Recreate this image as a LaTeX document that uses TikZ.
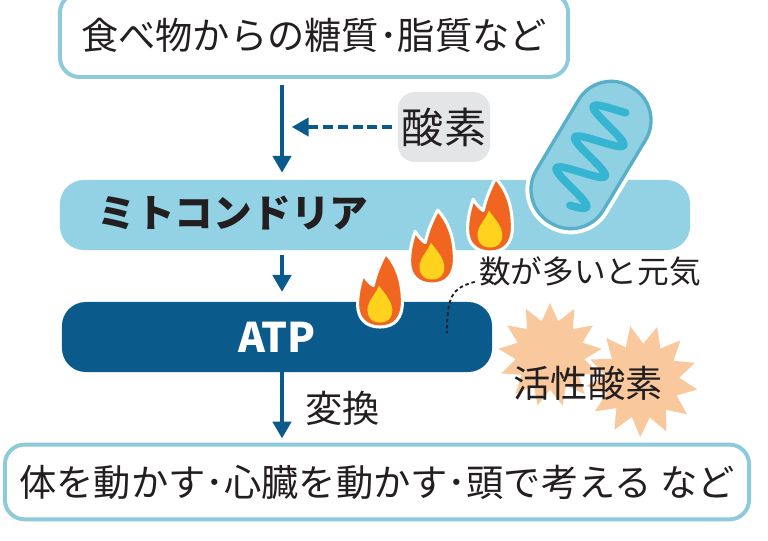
\documentclass[tikz,border=0pt]{standalone}
\usepackage{fontspec}
\usepackage{tikz}
\usetikzlibrary{arrows.meta, shapes.geometric, calc}
\newfontfamily\jp{Noto Sans CJK JP}
\definecolor{mnavy}{HTML}{0B5A8C}
\definecolor{msky}{HTML}{93D2E4}
\definecolor{mskyedge}{HTML}{8DCADB}
\definecolor{mgrey}{HTML}{E4E5E7}
\definecolor{mpeach}{HTML}{F9C89C}
\definecolor{mflame}{HTML}{F0651F}
\definecolor{mflamein}{HTML}{FFD21E}
\definecolor{mmito}{HTML}{8FD0E2}
\definecolor{mmitoedge}{HTML}{5AAFC8}
\definecolor{mcrista}{HTML}{36B5D3}
\definecolor{mink}{HTML}{231F20}
\tikzset{
  jptext/.style={text=mink, inner sep=0pt, font=\jp\fontsize{26.5}{30}\selectfont},
  wbox/.style={jptext, draw=mskyedge, line width=2.8pt, fill=white, rounded corners=14pt},
  gbox/.style={jptext, fill=mgrey, rounded corners=12pt, font=\jp\fontsize{30}{34}\selectfont},
  band/.style={fill=msky, rounded corners=17pt, minimum height=1.75cm},
  navyband/.style={fill=mnavy, rounded corners=17pt, minimum height=1.75cm, text=white,
                   font=\jp\bfseries\fontsize{29}{32}\selectfont},
  arr/.style={mnavy, line width=2.8pt, -{Triangle[width=13pt,length=12pt]}},
  darr/.style={mnavy, line width=2.6pt, dash pattern=on 7pt off 3.5pt,
               -{Triangle[width=13pt,length=12pt]}},
  tie/.style={mink, line width=1.3pt, dash pattern=on 2.5pt off 2pt},
  burst/.style={star, star points=13, star point ratio=1.5, fill=mpeach,
                minimum size=2.6cm, inner sep=0pt},
  mitobody/.style={draw=mmitoedge, line width=2.4pt, fill=mmito, minimum width=3.95cm,
                   minimum height=1.95cm, rounded corners=0.95cm,
                   preaction={draw=white, line width=8pt}},
  crista/.style={mcrista, line width=5.5pt, line cap=round, line join=round},
  flame/.pic={
    \filldraw[fill=mflame, draw=white, line width=2.2pt, line join=round]
      (0,0) .. controls (-13,0) and (-20,-8) .. (-20,-20)
      .. controls (-20,-30) and (-18,-38) .. (-15,-47)
      .. controls (-12,-42) and (-9,-39) .. (-6,-37)
      .. controls (-4,-47) and (0,-56) .. (5,-66)
      .. controls (15,-55) and (20,-41) .. (20,-22)
      .. controls (20,-8) and (13,0) .. (0,0) -- cycle;
    \fill[mflamein]
      (0,-4) .. controls (-9,-4) and (-12,-11) .. (-11,-18)
      .. controls (-10,-24) and (-4,-29) .. (-1,-37)
      .. controls (4,-30) and (11,-23) .. (11,-15)
      .. controls (11,-8) and (7,-4) .. (0,-4) -- cycle;
  },
}
\begin{document}
\begin{tikzpicture}[x=0.025cm, y=-0.025cm]
  \useasboundingbox (0,0) rectangle (768,540);
  \coordinate (spine) at (282,0);

  % flow boxes
  \node[wbox, minimum width=12.7cm, minimum height=2.1cm] (food) at (314,35)
    {食べ物からの糖質･脂質など};
  \node[gbox, minimum width=2.3cm, minimum height=1.75cm] (oxy) at (444,127) {酸素};
  \node[band, minimum width=15.75cm] (mitoband) at (375,215) {};
  \node[jptext, font=\jp\bfseries\fontsize{27.5}{30}\selectfont] (mitolbl) at (233,213)
    {ミトコンドリア};
  \node[navyband, minimum width=10.75cm] (atp) at (277,337) {ATP};
  \node[wbox, minimum width=18.6cm, minimum height=1.87cm] (goal) at (377,482)
    {体を動かす･心臓を動かす･頭で考える など};

  \draw[arr, shorten <=4pt, shorten >=5pt] (food.south -| spine) -- (mitoband.north -| spine);
  \draw[darr, shorten <=4pt, shorten >=7pt] (oxy.west) -- (spine |- oxy.west);
  \draw[arr, shorten <=3pt, shorten >=7pt] (mitoband.south -| spine) -- (atp.north -| spine);
  \draw[arr, shorten >=3pt] (atp.south -| spine) -- (goal.north -| spine);
  \node[jptext, anchor=west] (conv) at (305,408) {変換};

  % mitochondrion
  \node[mitobody, rotate=59] (organelle) at (591,155) {};
  \begin{scope}[shift={(organelle.center)}, x=0.025cm, y=0.025cm, rotate=59]
    \draw[crista] plot[domain=-54:54, samples=120, smooth] (\x, {23*sin(\x*10+20)});
  \end{scope}

  % reactive oxygen
  \node[burst] (burstA) at (550,355) {};
  \node[burst, rotate=12, minimum size=2.8cm] (burstB) at (642,381) {};
  \node[jptext] (ros) at (588,383) {活性酸素};

  % flames
  \pic[scale=1.12] (fa) at (380,327) {flame};
  \pic[scale=1.12] (fb) at (432,284) {flame};
  \pic[scale=1.12] (fc) at (490,252) {flame};

  \node[jptext, font=\jp\fontsize{22.5}{26}\selectfont] (note) at (590,272) {数が多いと元気};
  \coordinate (notetip) at (447,333);
  \draw[tie] ([xshift=-3pt,yshift=-7pt]note.west) .. controls (452,288) and (447,296) .. (notetip);
\end{tikzpicture}
\end{document}
